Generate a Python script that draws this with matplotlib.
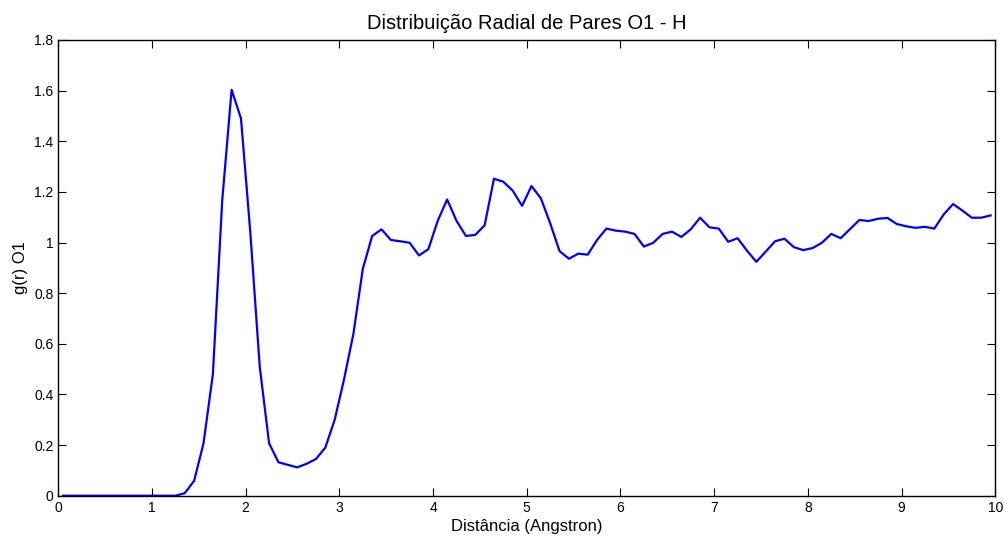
import matplotlib
matplotlib.use("Agg")
import matplotlib.pyplot as plt
from matplotlib.ticker import FuncFormatter

plt.rcParams['font.family'] = ['Liberation Sans', 'DejaVu Sans']

# radial distance bins (Angstron), centre of each 0.1 bin
r = [0.05, 0.15, 0.25, 0.35, 0.45, 0.55, 0.65, 0.75, 0.85, 0.95,
     1.05, 1.15, 1.25, 1.35, 1.45, 1.55, 1.65, 1.75, 1.85, 1.95,
     2.05, 2.15, 2.25, 2.35, 2.45, 2.55, 2.65, 2.75, 2.85, 2.95,
     3.05, 3.15, 3.25, 3.35, 3.45, 3.55, 3.65, 3.75, 3.85, 3.95,
     4.05, 4.15, 4.25, 4.35, 4.45, 4.55, 4.65, 4.75, 4.85, 4.95,
     5.05, 5.15, 5.25, 5.35, 5.45, 5.55, 5.65, 5.75, 5.85, 5.95,
     6.05, 6.15, 6.25, 6.35, 6.45, 6.55, 6.65, 6.75, 6.85, 6.95,
     7.05, 7.15, 7.25, 7.35, 7.45, 7.55, 7.65, 7.75, 7.85, 7.95,
     8.05, 8.15, 8.25, 8.35, 8.45, 8.55, 8.65, 8.75, 8.85, 8.95,
     9.05, 9.15, 9.25, 9.35, 9.45, 9.55, 9.65, 9.75, 9.85, 9.95]

# g(r) for O1 - H
g = [0, 0, 0, 0, 0, 0, 0, 0, 0, 0,
     0, 0, 0, 0.01, 0.059, 0.207, 0.48, 1.168, 1.603, 1.49,
     1.037, 0.51, 0.207, 0.132, 0.122, 0.112, 0.126, 0.145, 0.19, 0.30,
     0.46, 0.64, 0.896, 1.026, 1.052, 1.01, 1.005, 0.999, 0.949, 0.974,
     1.086, 1.17, 1.086, 1.026, 1.03, 1.068, 1.252, 1.24, 1.205, 1.145,
     1.223, 1.175, 1.076, 0.966, 0.936, 0.956, 0.952, 1.01, 1.055, 1.047,
     1.043, 1.034, 0.984, 0.999, 1.034, 1.043, 1.022, 1.052, 1.098, 1.06,
     1.055, 1.003, 1.017, 0.968, 0.924, 0.964, 1.005, 1.015, 0.982, 0.970,
     0.978, 0.999, 1.034, 1.017, 1.053, 1.089, 1.085, 1.094, 1.097, 1.073,
     1.064, 1.058, 1.062, 1.055, 1.111, 1.152, 1.126, 1.098, 1.098, 1.107]

xticks = [0, 1, 2, 3, 4, 5, 6, 7, 8, 9, 10]
yticks = [0, 0.2, 0.4, 0.6, 0.8, 1.0, 1.2, 1.4, 1.6, 1.8]

fig = plt.figure(figsize=(10.05, 5.38), dpi=100)
ax = fig.add_axes([0.058, 0.0786, 0.9323, 0.8471])

ax.plot(r, g, color=(0, 0, 1), linewidth=1.6)

ax.set_xlim(0, 10)
ax.set_ylim(0, 1.8)
ax.set_xticks(xticks)
ax.set_yticks(yticks)
ax.yaxis.set_major_formatter(FuncFormatter(lambda v, p: f"{v:g}"))

ax.tick_params(direction='in', length=6, width=0.8, top=True, right=True,
               labelsize=10, colors='black')
ax.tick_params(axis='x', pad=4)
for s in ax.spines.values():
    s.set_linewidth(1.0)

ax.set_title("Distribuição Radial de Pares O1 - H", fontsize=14.5, pad=8)
ax.set_xlabel("Distância (Angstron)", fontsize=12, labelpad=3)
ax.set_ylabel("g(r) O1", fontsize=12, labelpad=4)

fig.savefig("out.png", dpi=100)
